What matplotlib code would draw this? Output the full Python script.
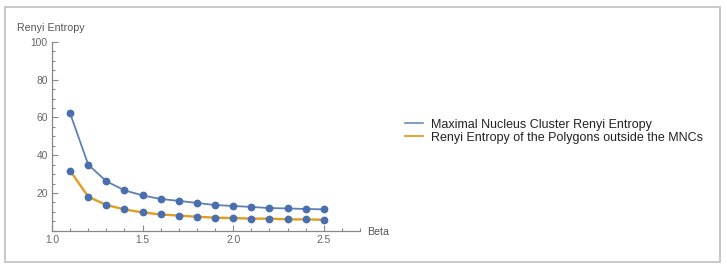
import matplotlib
matplotlib.use("Agg")
import matplotlib.pyplot as plt
from matplotlib.patches import Rectangle
from matplotlib.lines import Line2D
from matplotlib.ticker import MultipleLocator

plt.rcParams['font.family'] = ['Liberation Sans', 'DejaVu Sans']

beta = [1.1, 1.2, 1.3, 1.4, 1.5, 1.6, 1.7, 1.8, 1.9, 2.0, 2.1, 2.2, 2.3, 2.4, 2.5]
mnc_entropy = [62.2, 35.0, 26.2, 21.4, 18.7, 16.8, 15.8, 14.7, 13.6, 13.1, 12.6, 12.0, 11.8, 11.5, 11.3]
outside_entropy = [31.8, 18.0, 13.6, 11.3, 9.7, 8.6, 8.0, 7.4, 6.9, 6.7, 6.4, 6.4, 6.0, 6.0, 5.8]
series_labels = ["Maximal Nucleus Cluster Renyi Entropy",
                 "Renyi Entropy of the Polygons outside the MNCs"]
x_label = "Beta"
y_label = "Renyi Entropy"

W, H = 727, 268
fig = plt.figure(figsize=(W / 100, H / 100), dpi=100)
fig.patch.set_facecolor('white')

# outer frame
fig.patches.append(Rectangle((5 / W, 1 - 262 / H), 715 / W, 255 / H,
                             transform=fig.transFigure, fill=False,
                             edgecolor='#c4c4c4', linewidth=1.3))

ax = fig.add_axes([52 / W, 1 - 230.7 / H, (360 - 52) / W, (230.7 - 42) / H])
blue = '#5e81b5'
orange = '#e19c24'
marker_c = '#4a6fae'

ax.plot(beta, mnc_entropy, color=blue, lw=1.3, zorder=3)
ax.plot(beta, outside_entropy, color=orange, lw=1.7, zorder=3)
ax.plot(beta, mnc_entropy, 'o', color=marker_c, ms=4.6, zorder=4)
ax.plot(beta, outside_entropy, 'o', color=marker_c, ms=4.6, zorder=4)

ax.set_xlim(1.0, 2.7)
ax.set_ylim(0, 100)
for s in ['top', 'right']:
    ax.spines[s].set_visible(False)
for s in ['left', 'bottom']:
    ax.spines[s].set_color('#888888')
    ax.spines[s].set_linewidth(0.9)

ax.xaxis.set_minor_locator(MultipleLocator(0.1))
ax.yaxis.set_minor_locator(MultipleLocator(5))
ax.set_yticks([20, 40, 60, 80, 100])
ax.set_xticks([1.0, 1.5, 2.0, 2.5])
ax.set_xticklabels(['1.0', '1.5', '2.0', '2.5'])
ax.tick_params(which='both', direction='in', color='#888888', labelcolor='#666666',
               labelsize=7.4, width=0.8)
ax.tick_params(which='major', length=4, pad=3)
ax.tick_params(which='minor', length=2.2)
ax.patch.set_alpha(0)

fig.text(17 / W, 1 - 28 / H, y_label, ha='left', va='center', fontsize=7.7, color='#555555')
fig.text(367 / W, 1 - 232 / H, x_label, ha='left', va='center', fontsize=7.7, color='#555555')

handles = [Line2D([], [], color=blue, lw=1.1), Line2D([], [], color=orange, lw=1.3)]
leg = fig.legend(handles, series_labels, loc='upper left',
                 bbox_to_anchor=(405 / W, 1 - 118.5 / H), frameon=False,
                 fontsize=9, handlelength=1.45, handletextpad=0.62,
                 labelspacing=0.08, borderaxespad=0, borderpad=0)
for t in leg.get_texts():
    t.set_color('#222222')

fig.savefig('out.png', dpi=100)
